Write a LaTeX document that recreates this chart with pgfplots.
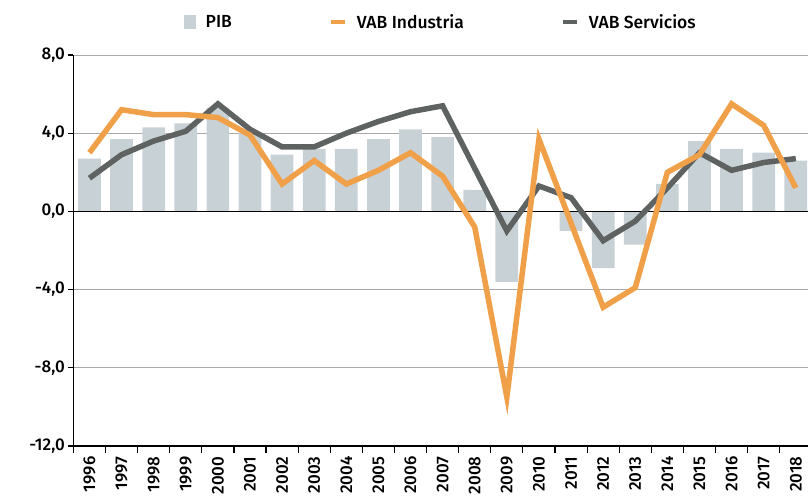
\documentclass[border=0pt]{standalone}
\usepackage{fontspec}
\setmainfont{Fira Sans}[UprightFont={* Medium}]
\usepackage{pgfplots}
\pgfplotsset{compat=1.18}
\definecolor{pib}{RGB}{200,209,214}
\definecolor{ind}{RGB}{240,160,72}
\definecolor{ser}{RGB}{94,99,98}
\definecolor{gridc}{RGB}{170,170,170}
\begin{document}
\begin{tikzpicture}
\path[use as bounding box] (-73.4pt,-49pt) rectangle (734.6pt,446pt);
\begin{axis}[
  scale only axis, width=734.6pt, height=391pt,
  xmin=-0.5, xmax=22.38, ymin=-12, ymax=8,
  axis x line*=bottom, axis y line*=left,
  axis line style={black, line width=1.6pt},
  tick align=outside,
  xtick={0,...,22},
  xticklabels={1996,1997,1998,1999,2000,2001,2002,2003,2004,2005,2006,2007,2008,2009,2010,2011,2012,2013,2014,2015,2016,2017,2018},
  minor xtick={-0.5,0.5,...,21.5},
  major x tick style={draw=none},
  minor x tick style={black, line width=1.2pt},
  major y tick style={black, line width=1.2pt},
  major tick length=5pt, minor tick length=7pt,
  ytick={-12,-8,-4,0,4,8},
  ymajorgrids, grid style={gridc, line width=0.8pt},
  yticklabel style={/pgf/number format/.cd, fixed, fixed zerofill, precision=1, use comma, assume math mode=true},
  tick label style={font=\fontsize{17}{17}\selectfont},
  xticklabel style={rotate=90, anchor=east, font=\fontsize{17}{17}\selectfont},
  xticklabel shift={2pt},
  legend style={at={(0.5,1.084)}, anchor=center, draw=none, legend columns=3,
    font=\fontsize{17.5}{17.5}\selectfont,
    /tikz/every odd column/.append style={column sep=8pt},
    /tikz/every even column/.append style={column sep=95pt}},
]
\addplot[ybar, fill=pib, draw=none, bar width=22.7pt,
  legend image code/.code={\fill[pib] (0pt,-7pt) rectangle (12pt,7pt);}]
  coordinates {(0,2.7) (1,3.7) (2,4.3) (3,4.5) (4,5.3) (5,4.0) (6,2.9) (7,3.2) (8,3.2) (9,3.7) (10,4.2) (11,3.8) (12,1.1) (13,-3.6) (14,0.0) (15,-1.0) (16,-2.9) (17,-1.7) (18,1.4) (19,3.6) (20,3.2) (21,3.0) (22,2.6)};
\addlegendentry{PIB}
\draw[black, line width=1.6pt] (axis cs:-0.5,0) -- (axis cs:22.38,0);
\addplot[ser, line width=5.5pt, forget plot]
  coordinates {(0,1.7) (1,2.9) (2,3.6) (3,4.1) (4,5.5) (5,4.2) (6,3.3) (7,3.3) (8,4.0) (9,4.6) (10,5.1) (11,5.4) (12,2.2) (13,-1.0) (14,1.3) (15,0.7) (16,-1.5) (17,-0.5) (18,1.2) (19,3.0) (20,2.1) (21,2.5) (22,2.7)};
\addplot[ind, line width=5.5pt,
  legend image code/.code={\draw[ind, line width=4pt] (0pt,0pt) -- (14pt,0pt);}]
  coordinates {(0,3.0) (1,5.2) (2,4.95) (3,4.95) (4,4.8) (5,3.9) (6,1.4) (7,2.6) (8,1.4) (9,2.1) (10,3.0) (11,1.8) (12,-0.8) (13,-9.5) (14,3.7) (15,-0.6) (16,-4.9) (17,-3.9) (18,2.0) (19,2.9) (20,5.5) (21,4.4) (22,1.2)};
\addlegendentry{VAB Industria}
\addlegendimage{legend image code/.code={\draw[ser, line width=4pt] (0pt,0pt) -- (14pt,0pt);}}
\addlegendentry{VAB Servicios}
\end{axis}
\end{tikzpicture}
\end{document}
